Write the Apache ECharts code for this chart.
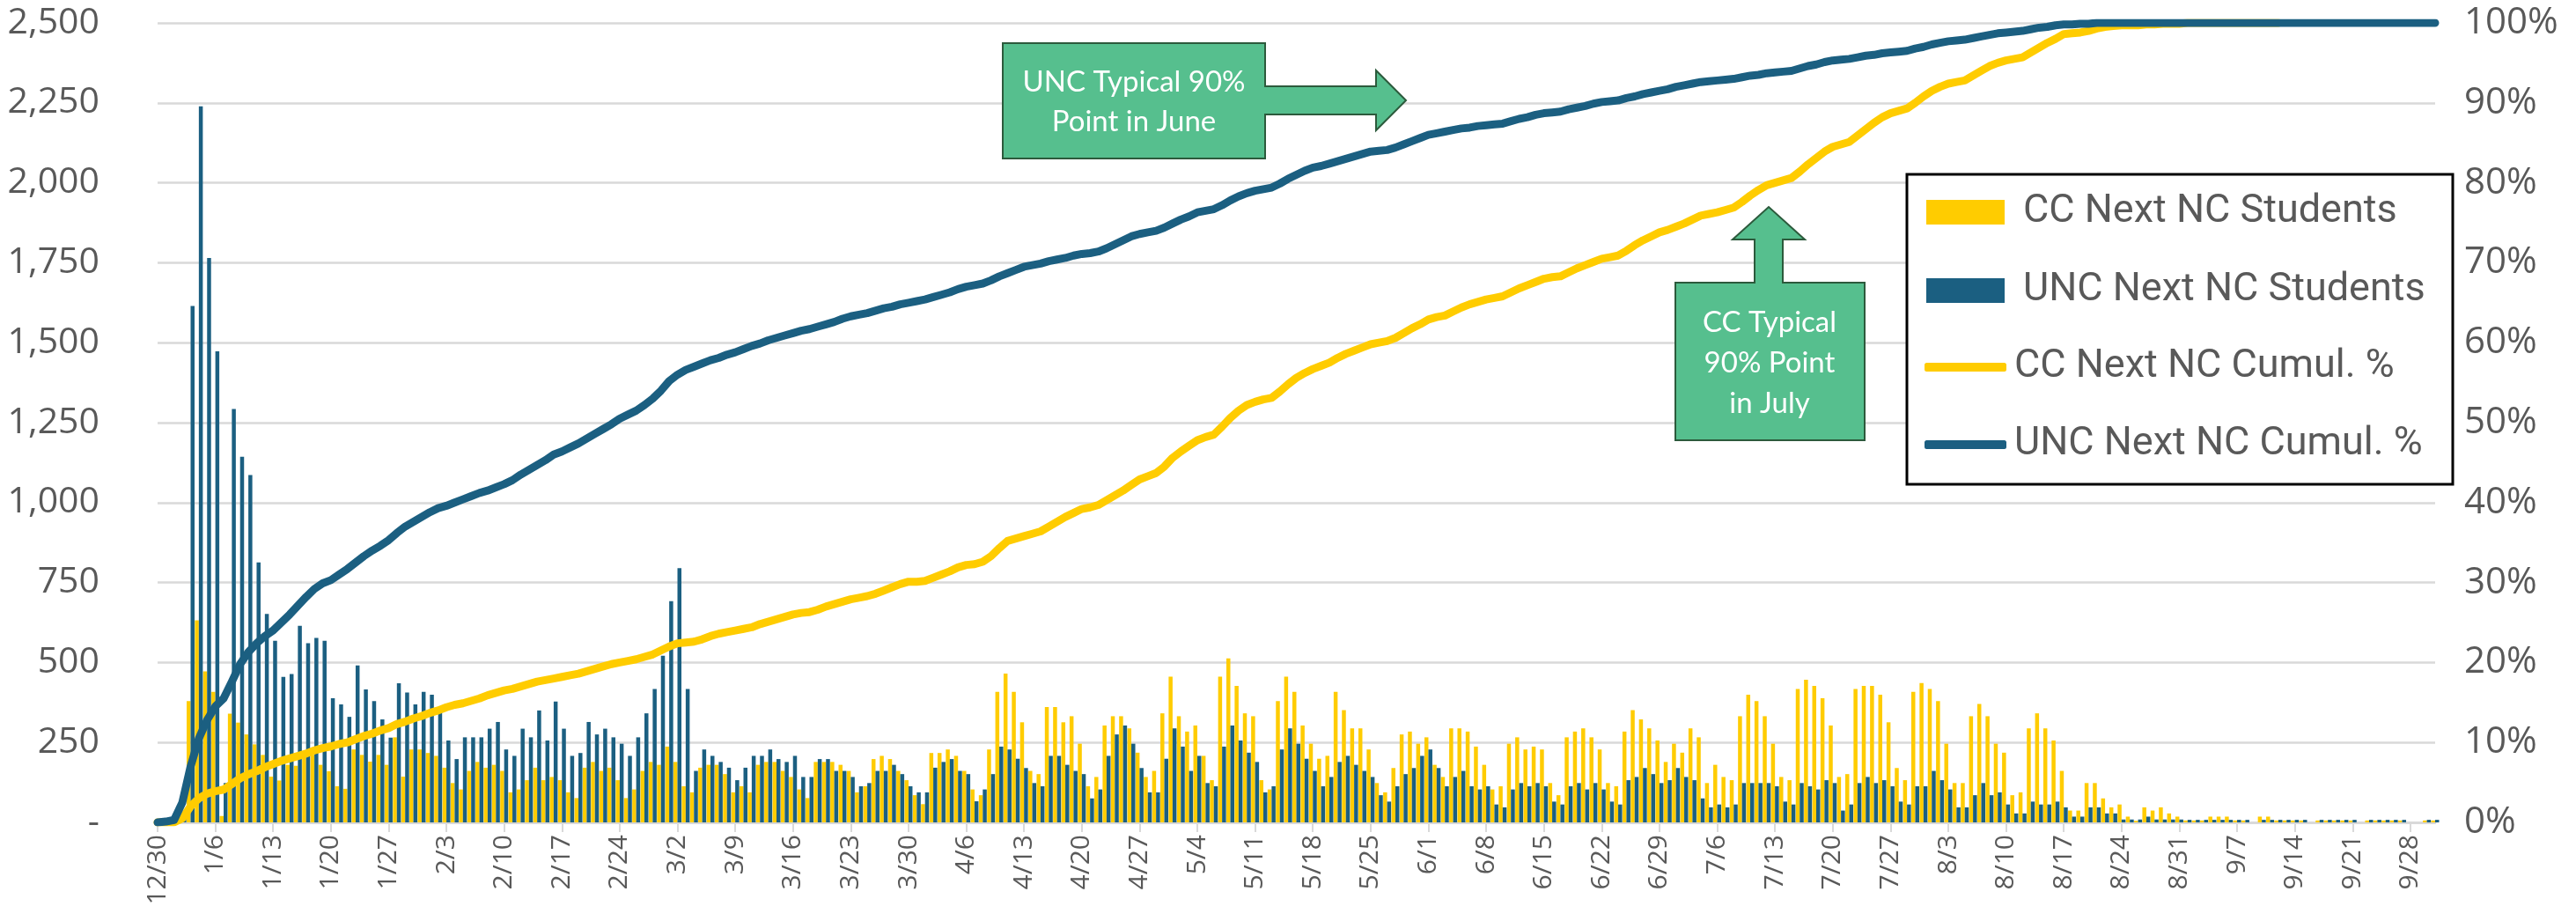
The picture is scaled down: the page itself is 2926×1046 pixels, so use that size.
<!DOCTYPE html>
<html><head><meta charset="utf-8">
<script src="https://cdn.jsdelivr.net/npm/echarts@6/dist/echarts.min.js"></script>
<style>html,body{margin:0;padding:0;background:#fff}#c{width:2926px;height:1046px}</style>
</head><body><div id="c"></div>
<script>
// ---- categories: daily dates from 12/30 ----
const dayCount = 277;
const categories = [];
for (let i = 0; i < dayCount; i++) {
  const d = new Date(Date.UTC(2023, 11, 30 + i));
  categories.push((d.getUTCMonth() + 1) + '/' + d.getUTCDate());
}

// ---- daily students (bars, left axis) ----
const ccStudents = [
  0,0,0,10,379,632,472,408,20,340,
  312,275,244,211,143,131,180,177,206,211,
  180,160,113,105,228,211,190,211,180,266,
  143,228,228,217,208,171,123,103,161,189,
  171,180,161,94,103,132,171,132,142,132,
  94,76,171,189,161,171,132,76,103,161,
  189,180,237,189,113,94,171,180,180,151,
  94,113,94,180,189,189,161,142,103,76,
  189,189,189,180,161,94,113,198,208,198,
  161,132,85,57,217,217,228,208,161,103,
  85,228,408,465,408,313,161,151,361,361,
  313,332,246,113,142,303,332,332,294,218,
  142,161,341,456,332,284,303,208,132,456,
  513,427,341,332,132,103,379,456,408,303,
  246,199,208,408,351,294,294,228,123,94,
  170,275,284,246,266,180,142,294,294,284,
  237,180,103,113,246,266,228,237,228,123,
  85,266,284,294,266,228,123,113,284,351,
  322,294,256,189,246,218,294,266,123,180,
  142,132,332,399,379,332,246,142,132,417,
  446,427,388,303,142,151,417,427,427,399,
  313,170,132,408,436,417,379,246,123,123,
  332,370,332,246,218,85,94,294,341,294,
  256,161,37,37,123,123,75,47,56,18,
  5,47,37,47,28,18,6,6,6,18,
  18,18,6,6,0,18,18,6,6,6,
  6,0,6,6,6,6,6,0,6,6,
  6,6,6,0,0,6,6
];
const uncStudents = [
  0,0,5,20,1615,2239,1765,1473,123,1293,
  1143,1086,813,652,568,455,464,615,560,577,
  568,388,369,330,491,416,379,322,265,435,
  406,369,408,399,350,256,198,266,266,266,
  293,314,228,208,293,266,350,256,378,293,
  208,217,314,275,293,266,246,208,266,341,
  417,521,692,795,417,161,228,208,189,171,
  132,171,208,208,228,198,189,208,142,142,
  198,198,161,161,142,113,123,161,161,180,
  151,113,94,94,171,189,198,161,151,66,
  103,151,237,228,199,170,123,113,208,208,
  180,161,151,75,103,208,275,303,246,170,
  94,94,199,294,237,161,208,123,113,237,
  303,256,218,189,94,113,228,294,246,199,
  161,113,142,189,208,180,161,142,85,65,
  113,151,170,208,228,170,113,142,161,113,
  103,113,56,47,103,123,113,123,113,65,
  56,113,123,103,123,103,65,56,132,142,
  170,151,123,132,170,142,132,75,47,56,
  47,56,123,123,123,123,113,65,56,123,
  113,103,132,123,37,56,123,142,123,132,
  113,65,56,113,113,161,132,103,47,47,
  85,123,85,94,56,28,28,65,56,56,
  65,47,18,18,47,47,28,28,9,9,
  9,18,9,9,9,9,8,8,8,8,
  8,8,8,8,0,8,8,8,8,8,
  8,0,8,8,8,8,8,0,8,8,
  8,8,8,0,0,8,8
];

// ---- cumulative percentages (lines, right axis) ----
const ccCumul = [
  0,0,0,0.5,2.0,3.0,3.6,3.9,4.1,4.8,
  5.5,6.0,6.4,6.9,7.3,7.7,8.0,8.3,8.6,9.0,
  9.3,9.5,9.8,10.0,10.4,10.8,11.1,11.5,11.8,12.3,
  12.6,13.0,13.3,13.7,14.0,14.4,14.7,14.9,15.2,15.5,
  15.9,16.2,16.5,16.7,17.0,17.3,17.6,17.8,18.0,18.2,
  18.4,18.6,18.9,19.2,19.5,19.8,20.0,20.2,20.4,20.7,
  21.0,21.5,22.0,22.4,22.5,22.6,22.9,23.3,23.6,23.8,
  24.0,24.2,24.4,24.8,25.1,25.4,25.7,26.0,26.2,26.3,
  26.6,27.0,27.3,27.6,27.9,28.1,28.3,28.6,29.0,29.4,
  29.8,30.1,30.1,30.2,30.6,31.0,31.4,31.9,32.2,32.3,
  32.6,33.3,34.3,35.2,35.5,35.8,36.1,36.4,37.0,37.6,
  38.2,38.7,39.2,39.4,39.7,40.3,40.9,41.5,42.2,42.9,
  43.3,43.7,44.5,45.6,46.4,47.1,47.8,48.2,48.5,49.5,
  50.6,51.5,52.2,52.6,52.9,53.1,53.9,54.8,55.6,56.2,
  56.7,57.1,57.5,58.1,58.6,59.0,59.4,59.8,60.0,60.2,
  60.6,61.2,61.8,62.3,62.9,63.2,63.4,63.9,64.4,64.8,
  65.1,65.4,65.6,65.8,66.3,66.8,67.2,67.6,68.0,68.2,
  68.3,68.8,69.3,69.7,70.1,70.5,70.7,70.9,71.5,72.2,
  72.8,73.3,73.8,74.1,74.5,74.9,75.4,75.9,76.1,76.3,
  76.6,76.9,77.6,78.4,79.1,79.7,80.0,80.3,80.6,81.4,
  82.3,83.1,83.9,84.5,84.8,85.1,85.9,86.7,87.5,88.2,
  88.7,89.0,89.3,90.0,90.8,91.5,92.0,92.4,92.6,92.8,
  93.4,94.0,94.6,95.0,95.3,95.5,95.7,96.3,96.9,97.5,
  98.0,98.6,98.7,98.8,99.0,99.3,99.5,99.6,99.7,99.7,
  99.7,99.8,99.8,99.9,99.9,99.9,100,100,100,100,
  100,100,100,100,100,100,100,100
];
const uncCumul = [
  0,0.1,0.3,2.5,7.0,10.5,12.8,14.5,
  15.5,17.6,19.8,21.3,22.4,23.3,24.0,
  25.0,26.0,27.1,28.2,29.2,29.9,30.3,
  31.0,31.7,32.5,33.3,34.0,34.6,35.3,
  36.2,37.0,37.6,38.2,38.8,39.3,39.6,
  40.0,40.4,40.8,41.2,41.5,41.9,42.3,
  42.8,43.5,44.1,44.7,45.3,46.0,46.4,
  46.9,47.4,48.0,48.6,49.2,49.8,50.5,
  51.0,51.5,52.2,53.0,54.0,55.2,56.0,
  56.6,57.0,57.4,57.8,58.1,58.5,58.8,
  59.2,59.6,59.9,60.3,60.6,60.9,61.2,
  61.5,61.7,62.0,62.3,62.6,63.0,63.3,
  63.5,63.7,64.0,64.3,64.5,64.8,65.0,
  65.2,65.4,65.7,66.0,66.3,66.7,67.0,
  67.2,67.4,67.8,68.3,68.7,69.1,69.5,
  69.7,69.9,70.2,70.4,70.6,70.9,71.1,
  71.2,71.4,71.8,72.3,72.8,73.3,73.6,
  73.8,74.0,74.4,74.9,75.4,75.8,76.3,
  76.5,76.7,77.2,77.8,78.3,78.7,79.0,
  79.2,79.4,79.9,80.5,81.0,81.5,81.9,
  82.1,82.4,82.7,83.0,83.3,83.6,83.9,
  84.0,84.1,84.4,84.8,85.2,85.6,86.0,
  86.2,86.4,86.6,86.8,86.9,87.1,87.2,
  87.3,87.4,87.7,88.0,88.2,88.5,88.7,
  88.8,88.9,89.2,89.4,89.6,89.9,90.1,
  90.2,90.3,90.6,90.8,91.1,91.3,91.5,
  91.7,92.0,92.2,92.4,92.6,92.7,92.8,
  92.9,93.0,93.2,93.4,93.5,93.7,93.8,
  93.9,94.0,94.3,94.6,94.8,95.1,95.3,
  95.4,95.5,95.7,95.9,96.0,96.2,96.3,
  96.4,96.5,96.8,97.0,97.3,97.5,97.7,
  97.8,97.9,98.1,98.3,98.5,98.7,98.8,
  98.9,99.0,99.2,99.4,99.5,99.7,99.8,
  99.8,99.9,99.9,100,100,100,100,
  100,100,100,100,100,100,100,100,100,100,
  100,100,100,100,100,100,100,100,100,100,
  100,100,100,100,100,100,100,100,100,100,
  100,100,100,100,100,100,100,100
];

const seriesNames = ['CC Next NC Students', 'UNC Next NC Students', 'CC Next NC Cumul. %', 'UNC Next NC Cumul. %'];
const annotationTexts = ['UNC Typical 90%\nPoint in June', 'CC Typical\n90% Point\nin July'];

const YELLOW = '#FFCC00', BLUE = '#1B5F81', GRID = '#D9D9D9', TXT = '#595959';
const axisFont = '"Open Sans", "Noto Sans", sans-serif';
const legendFont = 'Roboto, "Noto Sans", sans-serif';
const noteFont = '33px Lato, "Open Sans", sans-serif';

const chart = echarts.init(document.getElementById('c'), null, {renderer: 'canvas'});

function legendItem(name, top, isLine) {
  return {
    data: [{name: name, icon: isLine ? 'roundRect' : 'rect'}],
    left: isLine ? 2186 : 2188, top: top,
    itemWidth: isLine ? 93 : 89, itemHeight: isLine ? 10 : 28,
    padding: 0, selectedMode: false,
    textStyle: {fontSize: 45, color: TXT, fontFamily: legendFont, lineHeight: 54,
                padding: [0, 0, 0, isLine ? 4 : 16]}
  };
}

const arrow1 = [[1139,49],[1437,49],[1437,98],[1563,98],[1563,80],[1597,114],[1563,148],[1563,130],[1437,130],[1437,180],[1139,180]];
const arrow2 = [[1903,321],[1993,321],[1993,272],[1968,272],[2009,235],[2050,272],[2025,272],[2025,321],[2118,321],[2118,500],[1903,500]];

chart.setOption({
  animation: false,
  backgroundColor: '#fff',
  grid: {left: 179, right: 160, top: 26, bottom: 112, containLabel: false},
  legend: [
    legendItem(seriesNames[0], 241 - 27, false),
    legendItem(seriesNames[1], 330 - 27, false),
    legendItem(seriesNames[2], 417 - 27, true),
    legendItem(seriesNames[3], 505 - 27, true)
  ],
  xAxis: {
    type: 'category', data: categories, boundaryGap: false,
    axisLine: {lineStyle: {color: GRID, width: 3}},
    axisTick: {show: true, interval: 6, length: 11, lineStyle: {color: GRID, width: 2}},
    axisLabel: {interval: 6, rotate: 90, fontSize: 30, color: TXT, fontFamily: axisFont, margin: 14},
    splitLine: {show: false}
  },
  yAxis: [
    {type: 'value', min: 0, max: 2500, interval: 250,
     axisLine: {show: false}, axisTick: {show: false},
     splitLine: {lineStyle: {color: GRID, width: 2.5}},
     axisLabel: {fontSize: 41, color: TXT, fontFamily: axisFont, margin: 66,
       formatter: v => v === 0 ? '-' : v.toLocaleString('en-US')}},
    {type: 'value', min: 0, max: 100, interval: 10, position: 'right',
     axisLine: {show: false}, axisTick: {show: false}, splitLine: {show: false},
     axisLabel: {fontSize: 42, color: TXT, fontFamily: axisFont, margin: 33, formatter: '{value}%'}}
  ],
  series: [
    {name: seriesNames[0], type: 'bar', data: ccStudents, yAxisIndex: 0,
     itemStyle: {color: YELLOW}, barGap: '0%', barCategoryGap: '4%'},
    {name: seriesNames[1], type: 'bar', data: uncStudents, yAxisIndex: 0,
     itemStyle: {color: BLUE}, barGap: '0%', barCategoryGap: '4%'},
    {name: seriesNames[2], type: 'line', data: ccCumul, yAxisIndex: 1, showSymbol: false, symbol: 'none',
     lineStyle: {color: YELLOW, width: 9, cap: 'round', join: 'round'}, itemStyle: {color: YELLOW}, z: 3},
    {name: seriesNames[3], type: 'line', data: uncCumul, yAxisIndex: 1, showSymbol: false, symbol: 'none',
     lineStyle: {color: BLUE, width: 9, cap: 'round', join: 'round'}, itemStyle: {color: BLUE}, z: 3}
  ],
  graphic: [
    {type: 'rect', z: 1, shape: {x: 2166, y: 198, width: 620, height: 352},
     style: {fill: '#fff', stroke: '#000', lineWidth: 3}},
    {type: 'polygon', z: 10, shape: {points: arrow1},
     style: {fill: '#56BF8E', stroke: '#2C5A3C', lineWidth: 2}},
    {type: 'text', z: 11, x: 1288, y: 116,
     style: {text: annotationTexts[0], fill: '#fff', font: noteFont,
             textAlign: 'center', textVerticalAlign: 'middle', lineHeight: 45}},
    {type: 'polygon', z: 10, shape: {points: arrow2},
     style: {fill: '#56BF8E', stroke: '#2C5A3C', lineWidth: 2}},
    {type: 'text', z: 11, x: 2010, y: 412,
     style: {text: annotationTexts[1], fill: '#fff', font: noteFont,
             textAlign: 'center', textVerticalAlign: 'middle', lineHeight: 46}}
  ]
});
</script>
</body></html>
